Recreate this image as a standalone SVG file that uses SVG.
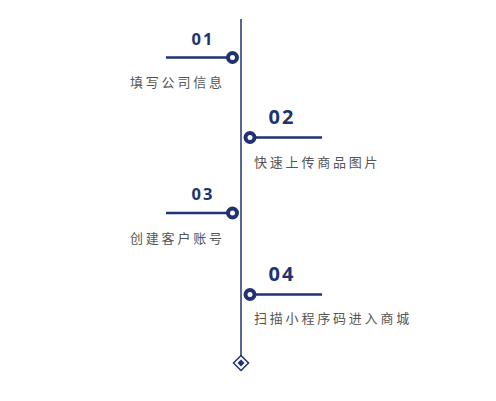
<svg xmlns="http://www.w3.org/2000/svg" width="496" height="401" viewBox="0 0 496 401">
<style>
.ln{stroke:#203274;fill:none}
.h{stroke:#203274;stroke-width:2.5}
.dot{fill:#fff;stroke:#203274;stroke-width:4}
.num{font-family:"Open Sans","Noto Sans","Liberation Sans",sans-serif;font-weight:bold;fill:#203274;letter-spacing:2px}
.lbl{font-family:"Noto Sans CJK SC",sans-serif;font-size:13px;fill:#555;letter-spacing:2.8px}
</style>
<rect width="496" height="401" fill="#fff"/>
<g id="connectors">
<line class="ln" x1="241" y1="19" x2="241" y2="356" stroke-width="1.5"/>
</g>
<g id="end">
<path d="M241 355.5L248.5 363L241 370.5L233.5 363Z" fill="#fff" stroke="#203274" stroke-width="1.5"/>
<path d="M241 359.5L244.5 363L241 366.5L237.5 363Z" fill="#203274"/>
</g>
<g id="n1">
<line class="h" x1="166" y1="57.5" x2="232" y2="57.5"/>
<circle class="dot" cx="232.5" cy="57.5" r="4.5"/>
<text class="num" x="203" y="45" font-size="16.5" text-anchor="middle">01</text>
<text class="lbl" x="130" y="87">填写公司信息</text>
</g>
<g id="n2">
<line class="h" x1="250" y1="137.5" x2="322" y2="137.5"/>
<circle class="dot" cx="250" cy="137.5" r="4.5"/>
<text class="num" x="282" y="124" font-size="20" text-anchor="middle">02</text>
<text class="lbl" x="254" y="167">快速上传商品图片</text>
</g>
<g id="n3">
<line class="h" x1="166" y1="213" x2="232" y2="213"/>
<circle class="dot" cx="232.5" cy="213" r="4.5"/>
<text class="num" x="203" y="200" font-size="16.5" text-anchor="middle">03</text>
<text class="lbl" x="130" y="243">创建客户账号</text>
</g>
<g id="n4">
<line class="h" x1="250" y1="294.5" x2="322" y2="294.5"/>
<circle class="dot" cx="250" cy="294.5" r="4.5"/>
<text class="num" x="282" y="281" font-size="20" text-anchor="middle">04</text>
<text class="lbl" x="254" y="323">扫描小程序码进入商城</text>
</g>
</svg>
